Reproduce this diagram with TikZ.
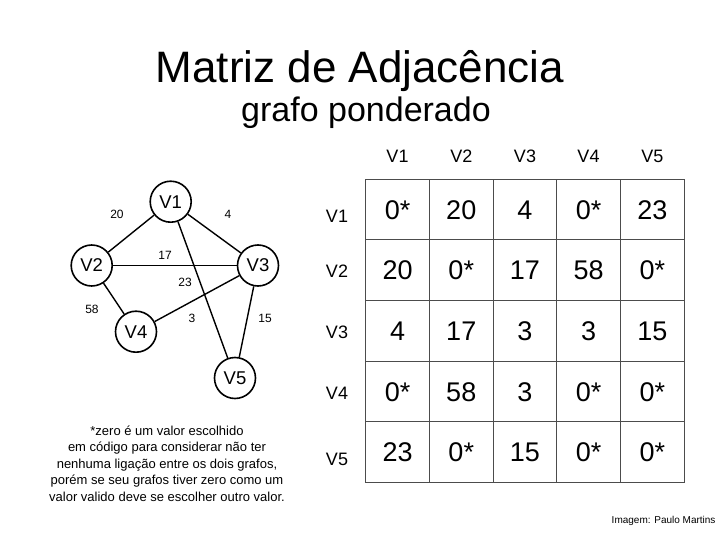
\documentclass[tikz,border=0pt]{standalone}
\usepackage{fontspec}
\setmainfont{Liberation Sans}
\usetikzlibrary{positioning}

\begin{document}
\begin{tikzpicture}[
  x=1pt, y=-1pt,
  every node/.style={font=\fontsize{12}{14}\selectfont},
  vert/.style={draw, circle, line width=1.6pt, minimum size=41pt, inner sep=0pt, font=\fontsize{18.5}{20}\selectfont},
  edge/.style={line width=1.4pt},
  wlbl/.style={font=\fontsize{12}{14}\selectfont},
  hdr/.style={font=\fontsize{18}{20}\selectfont},
  cell/.style={draw=black!70, line width=0.9pt, minimum width=63.7pt, minimum height=60.6pt, inner sep=0pt,
    text height=19.5pt, text depth=0pt, font=\fontsize{27}{30}\selectfont},
  note/.style={align=center, font=\fontsize{13}{16.6}\selectfont}
]
\useasboundingbox (0,0) rectangle (720,540);

% titulo
\node[anchor=base, font=\fontsize{44}{48}\selectfont] (title) at (360,83) {Matriz de Adjacência};
\node[anchor=base, font=\fontsize{34}{38}\selectfont] (subtitle) at (366,121.5) {grafo ponderado};

% grafo
\node[vert] (v1) at (170.7,201.7) {V1};
\node[vert] (v2) at (91.7,265.5) {V2};
\node[vert] (v3) at (258,265.5) {V3};
\node[vert] (v4) at (136,331.7) {V4};
\node[vert] (v5) at (235,378) {V5};

\draw[edge] (v1) -- (v2);
\draw[edge] (v1) -- (v3);
\draw[edge] (v1) -- (v5);
\draw[edge] (v2) -- (v3);
\draw[edge] (v2) -- (v4);
\draw[edge] (v4) -- (v3);
\draw[edge] (v3) -- (v5);

\node[wlbl] (w12) at (117,214) {20};
\node[wlbl] (w13) at (228,214) {4};
\node[wlbl] (w23) at (165,255) {17};
\node[wlbl] (w15) at (185,282) {23};
\node[wlbl] (w24) at (92,309) {58};
\node[wlbl] (w34) at (192,318) {3};
\node[wlbl] (w35) at (265,318) {15};

% matriz
\foreach \j/\x in {1/397.5, 2/461.3, 3/525, 4/588.5, 5/652.3}
  \node[hdr] (col\j) at (\x,156) {V\j};
\foreach \i/\y in {1/216, 2/271, 3/332, 4/393, 5/459}
  \node[hdr] (row\i) at (337,\y) {V\i};

\foreach \v [count=\j] in {0*,20,4,0*,23}
  \node[cell] (c1\j) at ({333.85+63.7*\j},209.55) {\v};
\foreach \v [count=\j] in {20,0*,17,58,0*}
  \node[cell] (c2\j) at ({333.85+63.7*\j},270.15) {\v};
\foreach \v [count=\j] in {4,17,3,3,15}
  \node[cell] (c3\j) at ({333.85+63.7*\j},330.75) {\v};
\foreach \v [count=\j] in {0*,58,3,0*,0*}
  \node[cell] (c4\j) at ({333.85+63.7*\j},391.35) {\v};
\foreach \v [count=\j] in {23,0*,15,0*,0*}
  \node[cell] (c5\j) at ({333.85+63.7*\j},451.95) {\v};

% nota
\node[note] (nota) at (167,463.5) {*zero é um valor escolhido\\em código para considerar não ter\\nenhuma ligação entre os dois grafos,\\porém se seu grafos tiver zero como um\\valor valido deve se escolher outro valor.};

\node[anchor=east, font=\fontsize{10}{12}\selectfont] (credito) at (719,521) {Imagem: Paulo Martins};
\end{tikzpicture}
\end{document}
